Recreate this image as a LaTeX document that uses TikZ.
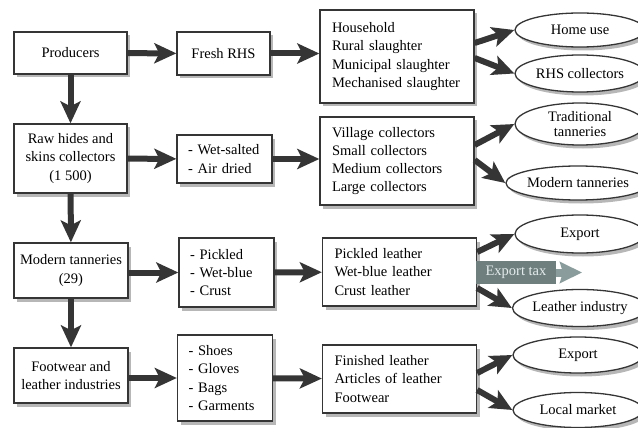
\documentclass[tikz,border=0pt]{standalone}
\usepackage{fontspec}
\setmainfont{Liberation Serif}
\usetikzlibrary{shapes.geometric,shadows,arrows.meta}

\definecolor{ink}{HTML}{353535}
\definecolor{taxfill}{HTML}{6F7F7E}
\definecolor{taxtext}{HTML}{E4ECEC}
\definecolor{taxarrow}{HTML}{8A9C9B}

\tikzset{
  stage/.style={draw=ink, line width=1.3pt, fill=white, align=center,
    font=\fontsize{14.5}{18.3}\selectfont,
    drop shadow={shadow xshift=3pt, shadow yshift=-3.5pt, opacity=.4, fill=black!70}},
  steps/.style={stage, align=left, text width=73pt, inner xsep=11pt},
  grades/.style={stage, align=left, text width=130pt, inner xsep=12pt},
  outlet/.style={ellipse, draw=ink, line width=1.3pt, fill=white, align=center,
    minimum width=130pt, inner sep=0pt, font=\fontsize{14.5}{15}\selectfont,
    drop shadow={shadow xshift=3pt, shadow yshift=-3.5pt, opacity=.4, fill=black!70}},
  flow/.style={-{Stealth[length=22pt,width=20pt,inset=5pt]}, line width=6pt, color=ink},
  taxbox/.style={fill=taxfill, text=taxtext, font=\fontsize{14.5}{18}\selectfont,
    minimum width=80pt, minimum height=23pt, inner sep=2pt},
  taxflow/.style={-{Stealth[length=22pt,width=21pt,inset=3pt]}, line width=8pt, color=taxarrow}
}

\begin{document}
\begin{tikzpicture}[x=1pt,y=-1pt]
\useasboundingbox (0,0) rectangle (638,428);
\clip (0,0) rectangle (638,428);

% actors
\node[stage, minimum width=113pt, minimum height=42pt] (prod) at (70.5,53) {Producers};
\node[stage, minimum width=113pt, minimum height=69pt] (raw) at (70.5,158.5) {Raw hides and\\skins collectors\\(1 500)};
\node[stage, minimum width=114pt, minimum height=55pt] (mtan) at (71,270.5) {Modern tanneries\\(29)};
\node[stage, minimum width=114pt, minimum height=55pt] (foot) at (71,375.5) {Footwear and\\leather industries};

% products
\node[stage, minimum width=93pt, minimum height=43pt] (fresh) at (223.5,53.5) {Fresh RHS};
\node[steps, minimum height=48pt] (salt) at (224.5,159) {\mbox{- Wet-salted}\\- Air dried};
\node[steps, minimum height=69pt] (pick) at (226.5,272.5) {- Pickled\\\mbox{- Wet-blue}\\- Crust};
\node[steps, minimum height=86pt] (goods) at (225,378) {- Shoes\\- Gloves\\- Bags\\- Garments};

% grades
\node[grades, minimum height=93pt] (slau) at (397,56.5) {Household\\Rural slaughter\\Municipal slaughter\\Mechanised slaughter};
\node[grades, minimum height=88pt] (coll) at (397,161) {Village collectors\\Small collectors\\Medium collectors\\Large collectors};
\node[grades, minimum height=68pt] (leath) at (399.5,272) {Pickled leather\\\mbox{Wet-blue leather}\\Crust leather};
\node[grades, minimum height=68pt] (fin) at (399.5,379) {Finished leather\\Articles of leather\\Footwear};

% outlets
\node[outlet, minimum height=34pt] (home) at (580,30) {Home use};
\node[outlet, minimum height=37pt] (rhsc) at (580,73.5) {RHS collectors};
\node[outlet, minimum height=42pt] (trad) at (580,124) {Traditional\\tanneries};
\node[outlet, minimum height=34pt] (modt) at (578,183) {Modern tanneries};
\node[outlet, minimum height=38pt] (exp) at (580,234) {Export};
\node[outlet, minimum height=37pt] (lind) at (580,308) {Leather industry};
\node[outlet, minimum height=36pt] (expb) at (578,355) {Export};
\node[outlet, minimum height=35pt] (loc) at (578,410) {Local market};

\path[flow]
  (prod) edge (raw)
  (raw) edge (mtan)
  (mtan) edge (foot)
  (prod) edge (fresh)
  (raw) edge (salt)
  (mtan.east|-pick) edge (pick)
  (foot.east|-goods) edge (goods)
  (fresh.east) edge (fresh.east-|slau.west)
  (salt.east) edge (salt.east-|coll.west)
  (pick) edge (leath)
  (goods) edge (fin)
  ([yshift=13.5pt]slau.east) edge (home.west)
  ([yshift=-1.5pt]slau.east) edge (rhsc.west)
  ([yshift=16pt]coll.east) edge (trad.west)
  ([yshift=1pt]coll.east) edge (modt.west)
  ([yshift=20pt]leath.east) edge (exp.west)
  ([yshift=-16pt]leath.east) edge (lind.west)
  ([yshift=6pt]fin.east) edge (expb.west)
  ([yshift=-11pt]fin.east) edge (loc.west);

\node[taxbox] (tax) at (516,272.5) {Export tax};
\coordinate (taxend) at (582,272.5);
\draw[taxflow] (tax) -- (taxend);
\end{tikzpicture}
\end{document}
